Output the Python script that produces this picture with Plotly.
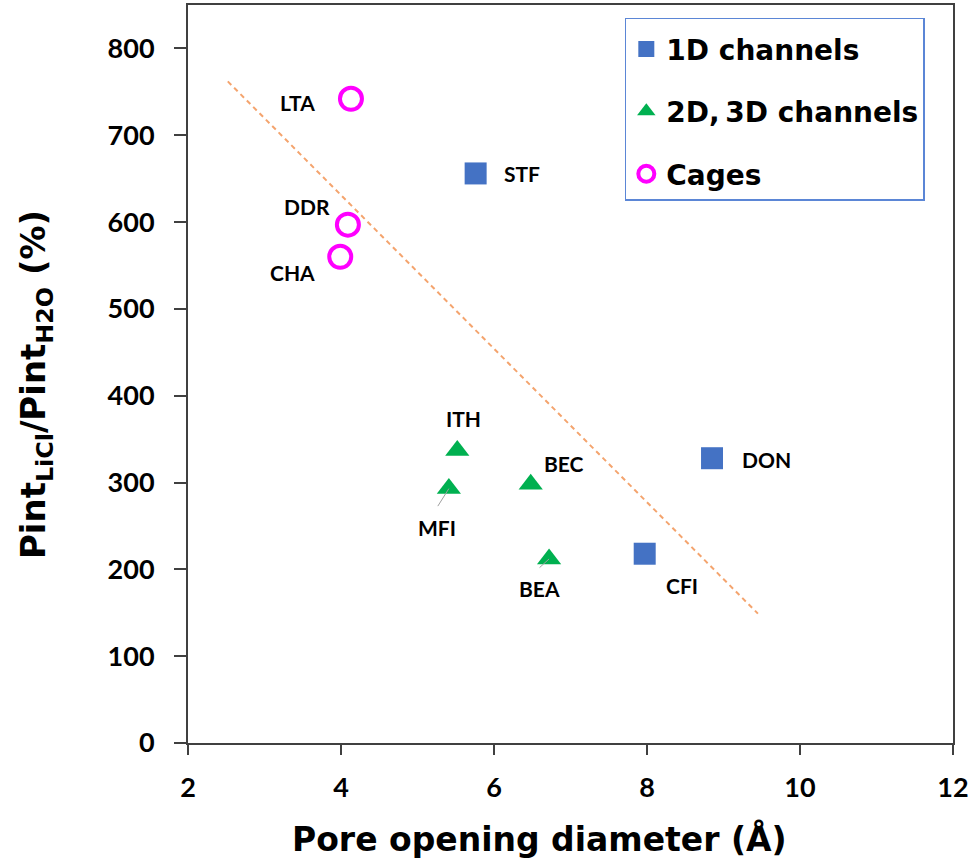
import plotly.graph_objects as go

# ---- data ----
ch1_names = ["STF", "DON", "CFI"]
ch1_x = [5.76, 8.85, 7.97]
ch1_y = [656, 328, 218]

ch23_names = ["ITH", "MFI", "BEC", "BEA"]
ch23_x = [5.52, 5.41, 6.48, 6.72]
ch23_y = [337, 293, 298, 212]

cage_names = ["LTA", "DDR", "CHA"]
cage_x = [4.13, 4.09, 3.99]
cage_y = [742, 597, 560]

trend_x = [2.52, 9.45]
trend_y = [762, 149]

x_ticks = [2, 4, 6, 8, 10, 12]
y_ticks = [0, 100, 200, 300, 400, 500, 600, 700, 800]

series_names = ["1D channels", "2D,\u20093D channels", "Cages"]
x_title = "Pore opening diameter (Å)"
y_title = "Pint<sub>LiCl</sub>/Pint<sub>H2O</sub> (%)"

# label offsets in pixels (dx right, dy up) -- styling only
label_offsets = {
    "LTA": (-53, -4), "DDR": (-41, 18), "CHA": (-48, -16),
    "STF": (46, 0), "DON": (54, -1), "CFI": (37, -32),
    "ITH": (6, 32), "MFI": (-12, -39), "BEC": (33, 21), "BEA": (-10, -30),
}
leader_offsets = {"MFI": (-12, 19), "BEA": (-11, 10)}

fig = go.Figure()

fig.add_trace(go.Scatter(
    x=trend_x, y=trend_y, mode="lines", showlegend=False, hoverinfo="skip",
    line=dict(color="#F4A46E", width=2, dash="5px,4px"),
))

fig.add_trace(go.Scatter(
    x=ch1_x, y=ch1_y, mode="markers", name=series_names[0], legendgroup="a",
    marker=dict(symbol="square", size=22, color="#4472C4"),
))
fig.add_trace(go.Scatter(
    x=ch23_x, y=ch23_y, mode="markers", name=series_names[1], legendgroup="b",
    marker=dict(symbol="triangle-up", size=21, color="#00B050"),
))
fig.add_trace(go.Scatter(
    x=cage_x, y=cage_y, mode="markers", name=series_names[2], legendgroup="c",
    marker=dict(symbol="circle-open", size=22, color="#FF00FF",
                line=dict(width=4, color="#FF00FF")),
))

label_font = dict(family="Lato", size=21, color="black", weight="bold")
annotations = []
for names, xs, ys in [(ch1_names, ch1_x, ch1_y), (ch23_names, ch23_x, ch23_y),
                      (cage_names, cage_x, cage_y)]:
    for n, xv, yv in zip(names, xs, ys):
        dx, dy = label_offsets[n]
        annotations.append(dict(x=xv, y=yv, text=n, showarrow=False,
                                xshift=dx, yshift=dy, font=label_font))
        if n in leader_offsets:
            ax, ay = leader_offsets[n]
            annotations.append(dict(x=xv, y=yv, text="", showarrow=True,
                                    ax=ax, ay=ay, arrowhead=0, arrowwidth=1,
                                    arrowcolor="#A0A0A0", standoff=0))

title_font = dict(family="DejaVu Sans", size=33, color="black", weight="bold")
annotations.append(dict(
    text=x_title, xref="paper", yref="paper", x=0.459, y=-0.1595,
    xanchor="center", yanchor="bottom", showarrow=False, font=title_font,
))
annotations.append(dict(
    text=y_title, xref="paper", yref="paper", x=-0.199, y=0.486,
    xanchor="center", yanchor="middle", textangle=-90, showarrow=False,
    font=dict(family="DejaVu Sans", size=34, color="black", weight="bold"),
))

tick_font = dict(family="Lato", size=27, color="black", weight="bold")

fig.update_layout(
    width=973, height=861,
    margin=dict(l=188, r=20, t=3, b=118),
    paper_bgcolor="white", plot_bgcolor="white",
    annotations=annotations,
    showlegend=True,
    legend=dict(
        x=0.571, y=0.983, xanchor="left", yanchor="top",
        bgcolor="white", bordercolor="#5B86D6", borderwidth=1.5,
        font=dict(family="DejaVu Sans", size=28, color="black", weight="bold"),
        title=dict(text=" ", font=dict(size=4)),
        tracegroupgap=23,
    ),
    xaxis=dict(
        range=[2, 12], tickvals=x_ticks, ticks="outside", ticklen=10, tickwidth=2,
        tickcolor="#404040", showline=True, linecolor="#404040", linewidth=2,
        mirror=True, showgrid=False, zeroline=False, ticklabelstandoff=10,
        tickfont=tick_font,
    ),
    yaxis=dict(
        range=[0, 850], tickvals=y_ticks, ticks="outside", ticklen=12, tickwidth=2,
        tickcolor="#404040", showline=True, linecolor="#404040", linewidth=2,
        mirror=True, showgrid=False, zeroline=False, ticklabelstandoff=14,
        tickfont=tick_font,
    ),
)

fig.write_html("out.html")
